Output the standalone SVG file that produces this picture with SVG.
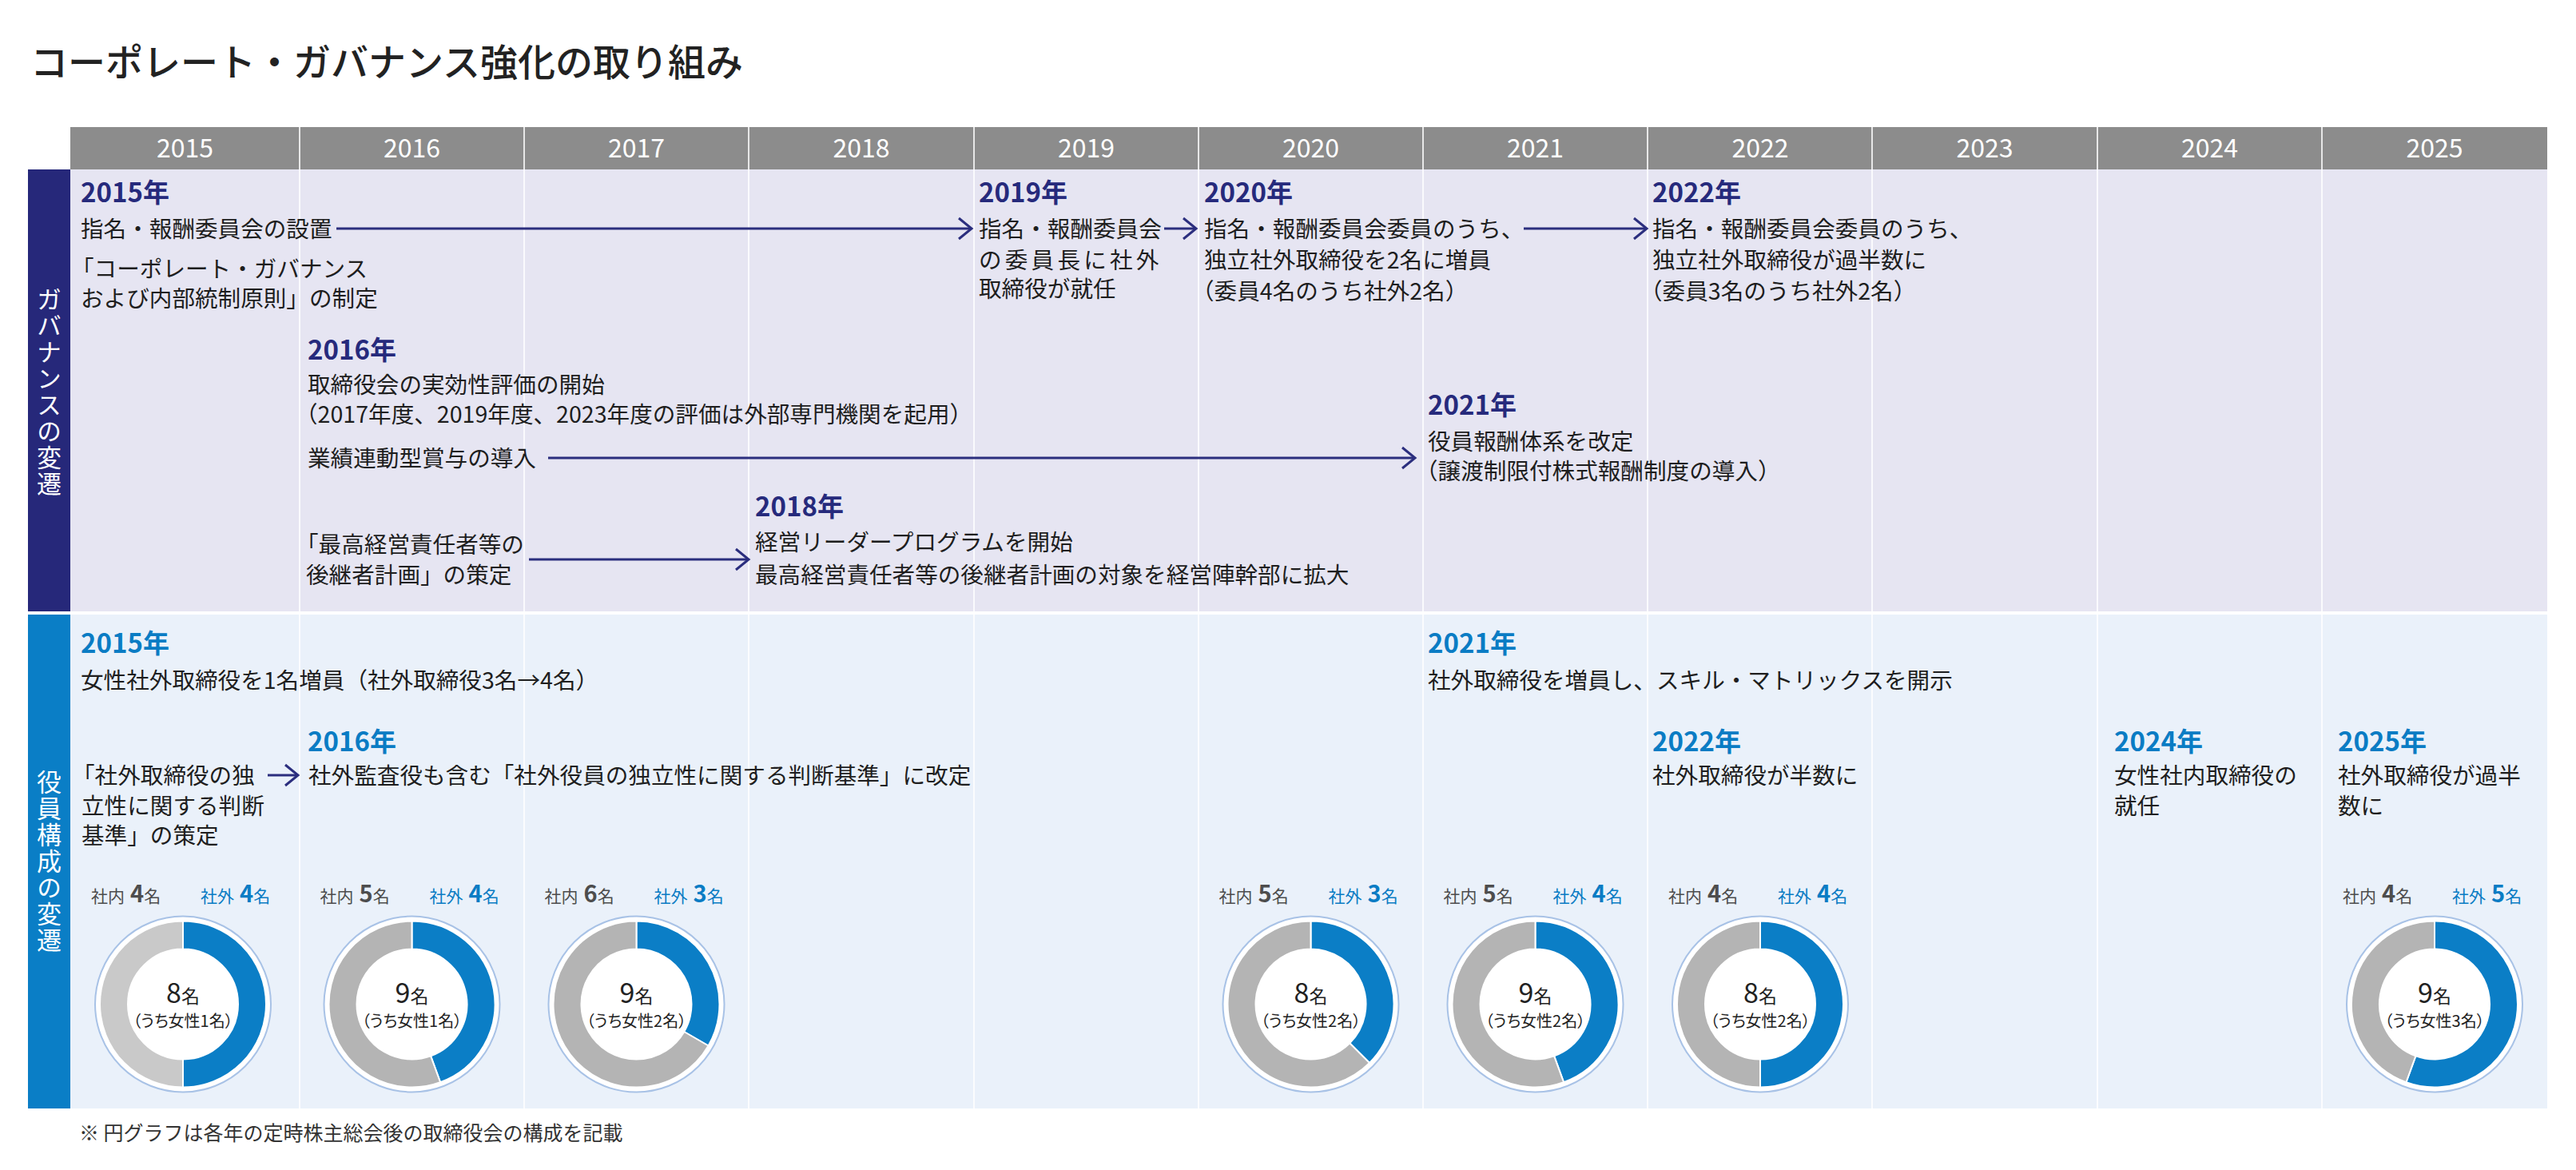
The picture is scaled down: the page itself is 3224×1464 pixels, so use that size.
<svg xmlns="http://www.w3.org/2000/svg" width="3224" height="1464" viewBox="0 0 3224 1464">
<style>
text{font-family:'Noto Sans CJK JP','Noto Sans',sans-serif;}
.t{font-size:28.6px;fill:#1e1e1e;}
.yg{font-size:33px;font-weight:700;fill:#262a7c;}
.yr{font-size:33px;font-weight:700;fill:#0a7cc4;}
.hd{font-size:32px;font-weight:400;fill:#fff;text-anchor:middle;}
.side{font-size:31px;fill:#fff;writing-mode:vertical-rl;text-anchor:middle;letter-spacing:2px;}
.div{stroke:#fff;stroke-width:1.6;}
.arrow{stroke:#2b2e7e;stroke-width:3;fill:none;marker-end:url(#chev);}
.ring{fill:#fff;stroke:#a8c2e6;stroke-width:2;}
.blue{fill:#0b7ec6;stroke:#fff;stroke-width:2;}
.gray{fill:#b4b4b4;stroke:#fff;stroke-width:2;}
.gray2{fill:#c9c9c9;stroke:#fff;stroke-width:2;}
.lin{font-size:21px;fill:#4d4d4d;}
.lout{font-size:21px;fill:#0a7cc4;}
.big{font-size:29px;font-weight:700;}
.ctot{font-size:23px;fill:#222;text-anchor:middle;}
.cnum{font-size:34px;}
.csub{font-size:20px;fill:#222;text-anchor:middle;font-feature-settings:"palt";}
</style>
<defs>
<marker id="chev" viewBox="-20 -16 24 32" refX="0" refY="0" markerWidth="24" markerHeight="32" markerUnits="userSpaceOnUse" orient="auto">
<path d="M-16,-13 L0,0 L-16,13" fill="none" stroke="#2b2e7e" stroke-width="3"/>
</marker>
</defs>
<rect width="3224" height="1464" fill="#fff"/>

<g id="title">
<text x="38" y="95" font-size="47" font-weight="500" fill="#222">コーポレート・ガバナンス強化の取り組み</text>
</g>

<g id="bands">
<rect x="88" y="159" width="3100" height="53" fill="#8c8c8c"/>
<rect x="35" y="212" width="53" height="553" fill="#26287a"/>
<rect x="88" y="212" width="3100" height="553" fill="#e6e5f2"/>
<rect x="35" y="769" width="53" height="618" fill="#0a7ec6"/>
<rect x="88" y="769" width="3100" height="618" fill="#eaf1fa"/>
<g class="div">
<line x1="375" y1="159" x2="375" y2="1387"/>
<line x1="656" y1="159" x2="656" y2="1387"/>
<line x1="937" y1="159" x2="937" y2="1387"/>
<line x1="1219" y1="159" x2="1219" y2="1387"/>
<line x1="1500" y1="159" x2="1500" y2="1387"/>
<line x1="1781" y1="159" x2="1781" y2="1387"/>
<line x1="2062" y1="159" x2="2062" y2="1387"/>
<line x1="2343" y1="159" x2="2343" y2="1387"/>
<line x1="2625" y1="159" x2="2625" y2="1387"/>
<line x1="2906" y1="159" x2="2906" y2="1387"/>
</g>
<text class="side" x="61.5" y="491">ガバナンスの変遷</text>
<text class="side" x="61.5" y="1078">役員構成の変遷</text>
</g>

<g id="header">
<text class="hd" x="231.5" y="197">2015</text>
<text class="hd" x="515.5" y="197">2016</text>
<text class="hd" x="796.5" y="197">2017</text>
<text class="hd" x="1078" y="197">2018</text>
<text class="hd" x="1359.5" y="197">2019</text>
<text class="hd" x="1640.5" y="197">2020</text>
<text class="hd" x="1921.5" y="197">2021</text>
<text class="hd" x="2203" y="197">2022</text>
<text class="hd" x="2484" y="197">2023</text>
<text class="hd" x="2765.5" y="197">2024</text>
<text class="hd" x="3047" y="197">2025</text>
</g>

<g id="gov-2015">
<text class="yg" x="101" y="253">2015年</text>
<text class="t" x="101" y="297">指名・報酬委員会の設置</text>
<text class="t" x="89" y="347">「コーポレート・ガバナンス</text>
<text class="t" x="101" y="384">および内部統制原則」の制定</text>
</g>
<g id="gov-2016">
<text class="yg" x="385" y="450">2016年</text>
<text class="t" x="385" y="492">取締役会の実効性評価の開始</text>
<text class="t" x="369" y="529">（2017年度、2019年度、2023年度の評価は外部専門機関を起用）</text>
<text class="t" x="385" y="584">業績連動型賞与の導入</text>
<text class="t" x="370" y="692">「最高経営責任者等の</text>
<text class="t" x="383" y="730">後継者計画」の策定</text>
</g>
<g id="gov-2018">
<text class="yg" x="945" y="646">2018年</text>
<text class="t" x="945" y="689">経営リーダープログラムを開始</text>
<text class="t" x="945" y="730">最高経営責任者等の後継者計画の対象を経営陣幹部に拡大</text>
</g>
<g id="gov-2019">
<text class="yg" x="1225" y="253">2019年</text>
<text class="t" x="1225" y="297">指名・報酬委員会</text>
<text class="t" x="1225" y="335.5" letter-spacing="4.2">の委員長に社外</text>
<text class="t" x="1225" y="372">取締役が就任</text>
</g>
<g id="gov-2020">
<text class="yg" x="1507" y="253">2020年</text>
<text class="t" x="1507" y="297">指名・報酬委員会委員のうち、</text>
<text class="t" x="1507" y="335.5">独立社外取締役を2名に増員</text>
<text class="t" x="1491" y="375">（委員4名のうち社外2名）</text>
</g>
<g id="gov-2021">
<text class="yg" x="1787" y="519">2021年</text>
<text class="t" x="1787" y="563">役員報酬体系を改定</text>
<text class="t" x="1771" y="600">（譲渡制限付株式報酬制度の導入）</text>
</g>
<g id="gov-2022">
<text class="yg" x="2068" y="253">2022年</text>
<text class="t" x="2068" y="297">指名・報酬委員会委員のうち、</text>
<text class="t" x="2068" y="335.5">独立社外取締役が過半数に</text>
<text class="t" x="2052" y="375">（委員3名のうち社外2名）</text>
</g>

<g id="role-2015">
<text class="yr" x="101" y="817">2015年</text>
<text class="t" x="101" y="862">女性社外取締役を1名増員（社外取締役3名→4名）</text>
<text class="t" x="90" y="980.5">「社外取締役の独</text>
<text class="t" x="102" y="1018.5">立性に関する判断</text>
<text class="t" x="102" y="1056">基準」の策定</text>
</g>
<g id="role-2016">
<text class="yr" x="385" y="940">2016年</text>
<text class="t" x="386" y="980.5">社外監査役も含む「社外役員の独立性に関する判断基準」に改定</text>
</g>
<g id="role-2021">
<text class="yr" x="1787" y="817">2021年</text>
<text class="t" x="1787" y="862">社外取締役を増員し、スキル・マトリックスを開示</text>
</g>
<g id="role-2022">
<text class="yr" x="2068" y="940">2022年</text>
<text class="t" x="2068" y="980.5">社外取締役が半数に</text>
</g>
<g id="role-2024">
<text class="yr" x="2646" y="940">2024年</text>
<text class="t" x="2646" y="980.5">女性社内取締役の</text>
<text class="t" x="2646" y="1018.5">就任</text>
</g>
<g id="role-2025">
<text class="yr" x="2926" y="940">2025年</text>
<text class="t" x="2926" y="980.5">社外取締役が過半</text>
<text class="t" x="2926" y="1018.5">数に</text>
</g>

<g id="connectors">
<line class="arrow" x1="421" y1="286" x2="1216" y2="286"/>
<line class="arrow" x1="1457" y1="286" x2="1497" y2="286"/>
<line class="arrow" x1="1907" y1="286" x2="2061" y2="286"/>
<line class="arrow" x1="686" y1="573" x2="1771" y2="573"/>
<line class="arrow" x1="662" y1="700" x2="937" y2="700"/>
<line class="arrow" x1="335" y1="970" x2="373" y2="970"/>
</g>

<g id="donut-2015" transform="translate(229,1256.5)">
<text class="lin" x="-115" y="-127.5">社内<tspan class="big" dx="7">4</tspan><tspan>名</tspan></text>
<text class="lout" x="22" y="-127.5">社外<tspan class="big" dx="7">4</tspan><tspan>名</tspan></text>
<circle class="ring" r="110"/>
<path class="blue" d="M0,-104 A104,104 0 0 1 0,104 L0,69 A69,69 0 0 0 0,-69 Z"/>
<path class="gray2" d="M0,104 A104,104 0 0 1 0,-104 L0,-69 A69,69 0 0 0 0,69 Z"/>
<text class="ctot" y="-1.5"><tspan class="cnum">8</tspan>名</text>
<text class="csub" y="28.5">（うち女性1名）</text>
</g>
<g id="donut-2016" transform="translate(515.5,1256.5)">
<text class="lin" x="-115" y="-127.5">社内<tspan class="big" dx="7">5</tspan><tspan>名</tspan></text>
<text class="lout" x="22" y="-127.5">社外<tspan class="big" dx="7">4</tspan><tspan>名</tspan></text>
<circle class="ring" r="110"/>
<path class="blue" d="M0,-104 A104,104 0 0 1 35.57,97.73 L23.60,64.84 A69,69 0 0 0 0,-69 Z"/>
<path class="gray" d="M35.57,97.73 A104,104 0 1 1 0,-104 L0,-69 A69,69 0 1 0 23.60,64.84 Z"/>
<text class="ctot" y="-1.5"><tspan class="cnum">9</tspan>名</text>
<text class="csub" y="28.5">（うち女性1名）</text>
</g>
<g id="donut-2017" transform="translate(796.5,1256.5)">
<text class="lin" x="-115" y="-127.5">社内<tspan class="big" dx="7">6</tspan><tspan>名</tspan></text>
<text class="lout" x="22" y="-127.5">社外<tspan class="big" dx="7">3</tspan><tspan>名</tspan></text>
<circle class="ring" r="110"/>
<path class="blue" d="M0,-104 A104,104 0 0 1 90.07,52 L59.76,34.5 A69,69 0 0 0 0,-69 Z"/>
<path class="gray" d="M90.07,52 A104,104 0 1 1 0,-104 L0,-69 A69,69 0 1 0 59.76,34.5 Z"/>
<text class="ctot" y="-1.5"><tspan class="cnum">9</tspan>名</text>
<text class="csub" y="28.5">（うち女性2名）</text>
</g>
<g id="donut-2020" transform="translate(1640.5,1256.5)">
<text class="lin" x="-115" y="-127.5">社内<tspan class="big" dx="7">5</tspan><tspan>名</tspan></text>
<text class="lout" x="22" y="-127.5">社外<tspan class="big" dx="7">3</tspan><tspan>名</tspan></text>
<circle class="ring" r="110"/>
<path class="blue" d="M0,-104 A104,104 0 0 1 73.54,73.54 L48.79,48.79 A69,69 0 0 0 0,-69 Z"/>
<path class="gray" d="M73.54,73.54 A104,104 0 1 1 0,-104 L0,-69 A69,69 0 1 0 48.79,48.79 Z"/>
<text class="ctot" y="-1.5"><tspan class="cnum">8</tspan>名</text>
<text class="csub" y="28.5">（うち女性2名）</text>
</g>
<g id="donut-2021" transform="translate(1921.5,1256.5)">
<text class="lin" x="-115" y="-127.5">社内<tspan class="big" dx="7">5</tspan><tspan>名</tspan></text>
<text class="lout" x="22" y="-127.5">社外<tspan class="big" dx="7">4</tspan><tspan>名</tspan></text>
<circle class="ring" r="110"/>
<path class="blue" d="M0,-104 A104,104 0 0 1 35.57,97.73 L23.60,64.84 A69,69 0 0 0 0,-69 Z"/>
<path class="gray" d="M35.57,97.73 A104,104 0 1 1 0,-104 L0,-69 A69,69 0 1 0 23.60,64.84 Z"/>
<text class="ctot" y="-1.5"><tspan class="cnum">9</tspan>名</text>
<text class="csub" y="28.5">（うち女性2名）</text>
</g>
<g id="donut-2022" transform="translate(2203,1256.5)">
<text class="lin" x="-115" y="-127.5">社内<tspan class="big" dx="7">4</tspan><tspan>名</tspan></text>
<text class="lout" x="22" y="-127.5">社外<tspan class="big" dx="7">4</tspan><tspan>名</tspan></text>
<circle class="ring" r="110"/>
<path class="blue" d="M0,-104 A104,104 0 0 1 0,104 L0,69 A69,69 0 0 0 0,-69 Z"/>
<path class="gray" d="M0,104 A104,104 0 0 1 0,-104 L0,-69 A69,69 0 0 0 0,69 Z"/>
<text class="ctot" y="-1.5"><tspan class="cnum">8</tspan>名</text>
<text class="csub" y="28.5">（うち女性2名）</text>
</g>
<g id="donut-2025" transform="translate(3047,1256.5)">
<text class="lin" x="-115" y="-127.5">社内<tspan class="big" dx="7">4</tspan><tspan>名</tspan></text>
<text class="lout" x="22" y="-127.5">社外<tspan class="big" dx="7">5</tspan><tspan>名</tspan></text>
<circle class="ring" r="110"/>
<path class="blue" d="M0,-104 A104,104 0 1 1 -35.57,97.73 L-23.60,64.84 A69,69 0 1 0 0,-69 Z"/>
<path class="gray" d="M-35.57,97.73 A104,104 0 0 1 0,-104 L0,-69 A69,69 0 0 0 -23.60,64.84 Z"/>
<text class="ctot" y="-1.5"><tspan class="cnum">9</tspan>名</text>
<text class="csub" y="28.5">（うち女性3名）</text>
</g>

<g id="footnote">
<text x="99" y="1427" font-size="25" fill="#333">※ 円グラフは各年の定時株主総会後の取締役会の構成を記載</text>
</g>
</svg>
